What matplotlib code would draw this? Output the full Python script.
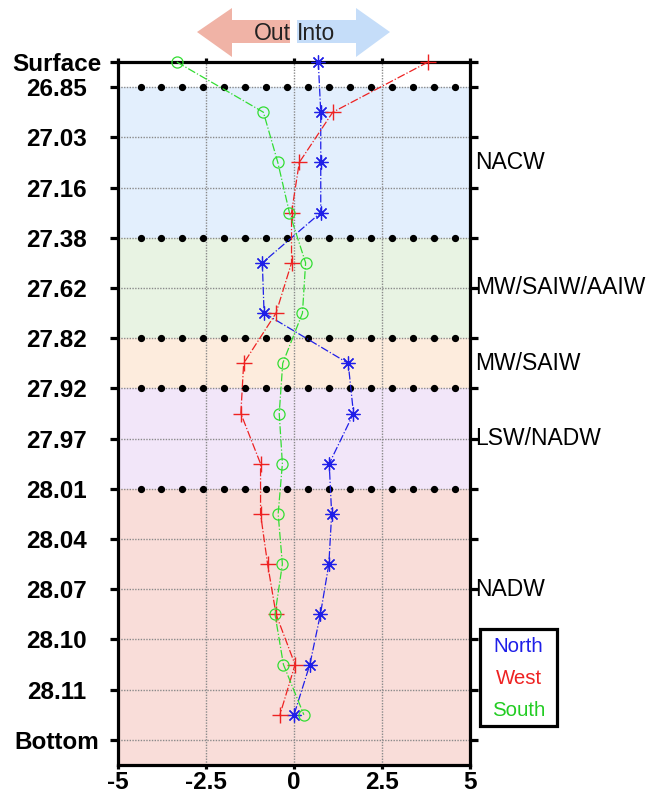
import numpy as np
import matplotlib
matplotlib.use("Agg")
import matplotlib.pyplot as plt
from matplotlib.patches import Polygon, Rectangle

plt.rcParams['font.family'] = ['Liberation Sans', 'DejaVu Sans']

# ── Data ───────────────────────────────────────────────────────────────────────
level_labels = ["Surface", "26.85", "27.03", "27.16", "27.38", "27.62", "27.82",
                "27.92", "27.97", "28.01", "28.04", "28.07", "28.10", "28.11", "Bottom"]
level_pos = [0.5] + list(range(1, 15))

# layer centres (surface point + mid-layers)
point_pos = [0.5, 1.5, 2.5, 3.5, 4.5, 5.5, 6.5, 7.5, 8.5, 9.5, 10.5, 11.5, 12.5, 13.5]
north = [0.69, 0.76, 0.76, 0.76, -0.90, -0.85, 1.54, 1.69, 1.00, 1.07, 0.99, 0.75, 0.45, 0.00]
west = [3.81, 1.10, 0.15, -0.07, -0.07, -0.51, -1.43, -1.51, -0.95, -0.95, -0.75, -0.51, 0.03, -0.40]
south = [-3.33, -0.87, -0.46, -0.13, 0.33, 0.24, -0.32, -0.42, -0.33, -0.45, -0.33, -0.54, -0.30, 0.28]

# water-mass bands (top, bottom, colour) and their labels
bands = [(1, 4, '#e3effd'), (4, 6, '#e8f3e3'), (6, 7, '#fdecdd'),
         (7, 9, '#f2e6f9'), (9, 14.5, '#f9ddd9')]
boundaries = [1, 4, 6, 7, 9]
mass_names = ["NACW", "MW/SAIW/AAIW", "MW/SAIW", "LSW/NADW", "NADW"]
mass_pos = [2.5, 5, 6.5, 8, 11]

series_names = ["North", "West", "South"]
series_colors = ['#1f1fe8', '#ee2222', '#33dd33']

# ── Figure ─────────────────────────────────────────────────────────────────────
fig = plt.figure(figsize=(6.51, 7.96), dpi=100)
ax = fig.add_axes([118/651, 1-765/796, 352/651, 703/796])

for top, bot, col in bands:
    ax.axhspan(top, bot, color=col, zorder=0, lw=0)

ax.set_xlim(-5, 5)
ax.set_ylim(14.5, 0.5)
ax.set_xticks([-5, -2.5, 0, 2.5, 5])
ax.set_xticklabels(["-5", "-2.5", "0", "2.5", "5"])
ax.set_yticks(level_pos)
ax.set_yticklabels(level_labels)

for x in [-2.5, 0, 2.5]:
    ax.axvline(x, color='#8a8a8a', lw=1.0, ls=(0, (1, 1)), zorder=1)
for y in level_pos[1:]:
    ax.axhline(y, color='#8a8a8a', lw=1.0, ls=(0, (1, 1)), zorder=1)

# boundary dots
dot_x = np.linspace(-4.36, 4.57, 16)
for b in boundaries:
    ax.plot(dot_x, [b]*len(dot_x), 'o', color='black', ms=4.2, zorder=2, clip_on=False)

ax.plot(north, point_pos, color=series_colors[0], ls='-.', lw=0.9, marker=(8, 2, 0),
        ms=10, mew=0.9, zorder=4, clip_on=False)
ax.plot(west, point_pos, color=series_colors[1], ls='-.', lw=0.9, marker='+', ms=11,
        mew=1.0, zorder=4, clip_on=False)
ax.plot(south, point_pos, color=series_colors[2], ls='-.', lw=0.9, marker='o', ms=8,
        mfc='none', mew=0.9, zorder=4, clip_on=False)

for sp in ax.spines.values():
    sp.set_linewidth(2.3)
ax.tick_params(axis='both', direction='out', width=2.3, length=6,
               labelsize=17.5, top=True, right=True, labelright=False)
ax.tick_params(axis='y', pad=38)
ax.tick_params(axis='x', length=3, pad=1.5)
for lab in ax.get_xticklabels() + ax.get_yticklabels():
    lab.set_fontweight('bold')
for lab in ax.get_yticklabels():
    lab.set_ha('center')

for name, y in zip(mass_names, mass_pos):
    ax.text(5.14, y, name, fontsize=16.5, va='center', ha='left', clip_on=False)

# legend box
def px(x, y):
    return (x/651, 1-y/796)

fig.patches.append(Rectangle(px(480, 726), 77/651, 97/796, transform=fig.transFigure,
                             facecolor='white', edgecolor='black', lw=2.3))
for name, col, yy in zip(series_names, series_colors, [646, 679, 710]):
    fig.text(*px(518.5, yy), name, ha='center', va='center', fontsize=14.7,
             color=col if name != "South" else '#22cc22')

# direction arrows at the top
red_arrow = [px(197, 32), px(232, 8), px(232, 20), px(290, 20), px(290, 43),
             px(232, 43), px(232, 57)]
blue_arrow = [px(390, 32), px(356, 8), px(356, 20), px(297, 20), px(297, 43),
              px(356, 43), px(356, 57)]
fig.patches.append(Polygon(red_arrow, closed=True, transform=fig.transFigure,
                           facecolor='#f0b3a6', edgecolor='none'))
fig.patches.append(Polygon(blue_arrow, closed=True, transform=fig.transFigure,
                           facecolor='#c5ddf9', edgecolor='none'))
fig.text(*px(291, 33), "Out", ha='right', va='center', fontsize=16.5, color='#222222')
fig.text(*px(297, 33), "Into", ha='left', va='center', fontsize=16.5, color='#222222')

fig.savefig("out.png", dpi=100)
